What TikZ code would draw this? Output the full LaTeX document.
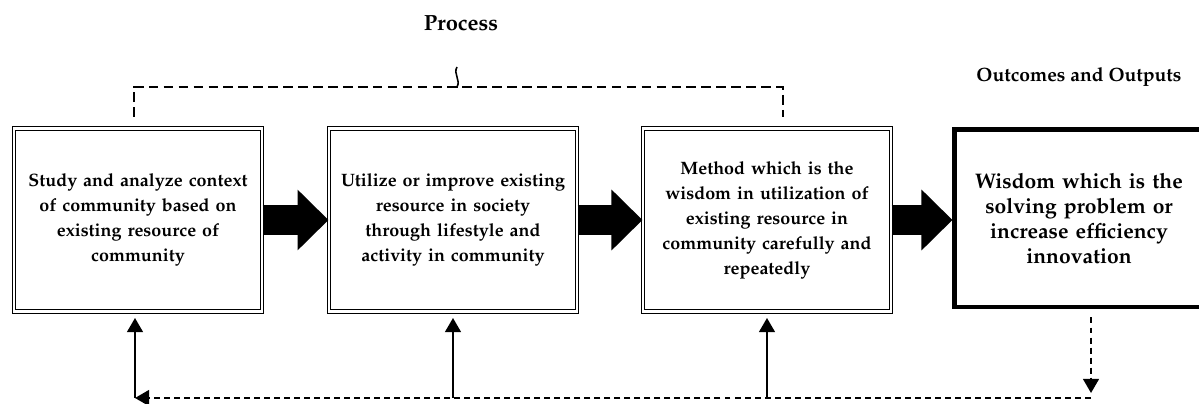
\documentclass[tikz,border=0pt]{standalone}
\usepackage[T1]{fontenc}
\usepackage{mathpazo}
\usepackage{tikz}
\usetikzlibrary{arrows.meta,positioning,calc}
\tikzstyle{stepbox} = [rectangle, draw, double, double distance=1.4pt, line width=0.6pt, minimum width=4.96cm, minimum height=3.66cm, text width=4.7cm, align=center, font=\fontsize{10.2}{14.2}\selectfont\bfseries]
\tikzstyle{outbox} = [rectangle, draw, line width=2.3pt, minimum width=4.98cm, minimum height=3.56cm, text width=4.7cm, align=center, font=\fontsize{12}{14.2}\selectfont\bfseries]
\tikzstyle{bigarrow} = [line width=0.6cm, -{Triangle[length=0.62cm, width=1.18cm]}]
\tikzstyle{feed} = [line width=1pt, -{Triangle[length=8pt, width=9pt]}]
\tikzstyle{feeddash} = [feed, dash pattern=on 3.4pt off 2.3pt]
\tikzstyle{bracket} = [line width=1pt, dash pattern=on 5.5pt off 3pt]
\tikzstyle{title} = [font=\fontsize{11}{13}\selectfont\bfseries]

\begin{document}
\begin{tikzpicture}[x=0.02cm, y=-0.02cm]
\useasboundingbox (0,0) rectangle (1199,404);

% process steps
\node[stepbox] (study) at (138,220) {Study and analyze context\\of community based on\\existing resource of\\community};
\node[stepbox, right=1.32cm of study] (utilize) {Utilize or improve existing\\resource in society\\through lifestyle and\\activity in community};
\node[stepbox, right=1.3cm of utilize] (method) {Method which is the\\wisdom in utilization of\\existing resource in\\community carefully and\\repeatedly};
\node[outbox, right=1.22cm of method, yshift=0.03cm] (result) {Wisdom which is the\\solving problem or\\increase efficiency\\innovation};

\draw[bigarrow] (study) -- (utilize);
\draw[bigarrow] (utilize) -- (method);
\draw[bigarrow] (method) -- (result.west |- method);

% labels
\node[title, above=0.7cm of result] (outcomes) {Outcomes and Outputs};
\coordinate (brl) at (134,117);
\coordinate (brr) at (783,117);
\coordinate (tip) at (457,87);
\coordinate (tiptop) at (457,67);
\node[title, font=\fontsize{12.5}{14}\selectfont\bfseries] (process) at (461,23) {Process};
\draw[bracket] (brl) |- (tip) -| (brr);
\draw[line width=0.9pt] (tip) .. controls (461,80) and (453,74) .. (tiptop);

% feedback loop
\coordinate (fbr) at (1091,398);
\coordinate (fbl) at (135,398);
\draw[feeddash, shorten <=0.16cm, shorten >=0.1cm] (result.south -| fbr) -- (fbr);
\draw[feeddash] (fbr) -- (fbl);
\draw[feed, shorten >=0.12cm] (fbl) -- (study.south -| fbl);
\draw[feed, shorten >=0.12cm] (utilize.south |- fbl) -- (utilize.south);
\draw[feed, shorten >=0.12cm] (method.south |- fbl) -- (method.south);
\end{tikzpicture}
\end{document}
